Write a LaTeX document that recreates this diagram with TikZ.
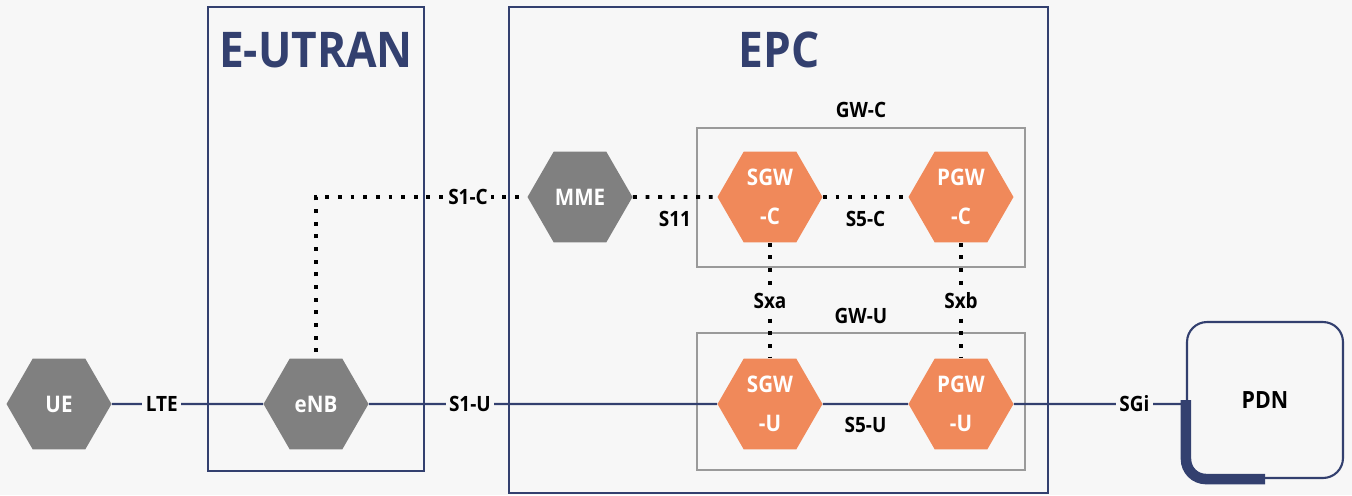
\documentclass[tikz,border=0pt]{standalone}
\usepackage{fontspec}
\setmainfont{Open Sans}[FakeStretch=0.9]
\usepackage{tikz}
\usetikzlibrary{shapes, positioning, calc}
\definecolor{navyline}{HTML}{33406F}
\definecolor{hexgray}{HTML}{808080}
\definecolor{hexorange}{HTML}{F0895A}
\definecolor{gwgray}{HTML}{9A9A9A}
\definecolor{bgcol}{HTML}{F7F7F7}

\begin{document}
\begin{tikzpicture}[x=0.02cm, y=-0.02cm,
	hexnode/.style={shape=regular polygon, regular polygon sides=6, minimum size=2.1cm, inner sep=0pt, draw=none, text=white, align=center, font=\bfseries\fontsize{13}{22}\selectfont},
	grayhex/.style={hexnode, fill=hexgray},
	orangehex/.style={hexnode, fill=hexorange},
	lbl/.style={fill=bgcol, inner sep=2pt, font=\bfseries\fontsize{12}{13}\selectfont},
	plainlbl/.style={inner sep=0pt, font=\bfseries\fontsize{12}{13}\selectfont},
	titlelbl/.style={text=navyline, font=\bfseries\fontsize{28}{30}\selectfont},
	domainbox/.style={draw=navyline, line width=1.4pt},
	gwbox/.style={draw=gwgray, line width=1.1pt},
	userline/.style={draw=navyline, line width=1.3pt},
	ctrlline/.style={draw=black, line width=2.2pt, dash pattern=on 2.2pt off 5pt}]
	% background and bounding box
	\fill[bgcol] (0,0) rectangle (1352,495);
	\useasboundingbox (0,0) rectangle (1352,495);
	
	% domains
	\draw[domainbox] (208,7) rectangle (424,471);
	\draw[domainbox] (509,7) rectangle (1048,493);
	\node[titlelbl] (eutran) at (316,50) {E-UTRAN};
	\node[titlelbl] (epc) at (779,50) {EPC};
	
	% gateway groups
	\draw[gwbox] (697,128) rectangle (1025,267);
	\draw[gwbox] (697,333) rectangle (1025,470);
	\node[plainlbl] (gwc) at (861,110) {GW-C};
	\node[plainlbl] (gwu) at (861,316) {GW-U};
	
	% network elements
	\node[grayhex] (ue) at (59,404) {UE};
	\node[grayhex] (enb) at (316,404) {eNB};
	\node[grayhex] (mme) at (580,197) {MME};
	\node[orangehex] (sgwc) at (770,197) {SGW\\-C};
	\node[orangehex] (pgwc) at (961,197) {PGW\\-C};
	\node[orangehex] (sgwu) at (770,404) {SGW\\-U};
	\node[orangehex] (pgwu) at (961,404) {PGW\\-U};
	\node[draw=navyline, line width=1.2pt, rounded corners=20*0.02cm, minimum width=3.12cm, minimum height=3.12cm, font=\bfseries\fontsize{13.5}{15}\selectfont] (pdn) at (1265,400) {PDN};
	\draw[navyline, line width=6pt, rounded corners=20*0.02cm] (pdn.west) |- (pdn.south);
	
	% user plane
	\draw[userline] (ue) -- node[lbl, pos=0.33] {LTE} (enb);
	\draw[userline] (enb) -- node[lbl, pos=0.29] {S1-U} (sgwu);
	\draw[userline] (sgwu) -- node[plainlbl, below=12*0.02cm] {S5-U} (pgwu);
	\draw[userline] (pgwu) -- node[lbl, pos=0.7] {SGi} (pgwu -| pdn.west);
	
	% control plane
	\draw[ctrlline] ([yshift=6*0.02cm]enb.north) |- node[lbl, pos=0.86] {S1-C} (mme.west);
	\draw[ctrlline] (mme.east) -- node[plainlbl, below=12*0.02cm] {S11} (sgwc.west);
	\draw[ctrlline] (sgwc.east) -- node[plainlbl, below=12*0.02cm] {S5-C} (pgwc.west);
	\draw[ctrlline] (sgwc.south) -- node[lbl] {Sxa} (sgwu.north);
	\draw[ctrlline] (pgwc.south) -- node[lbl] {Sxb} (pgwu.north);
\end{tikzpicture}
\end{document}
